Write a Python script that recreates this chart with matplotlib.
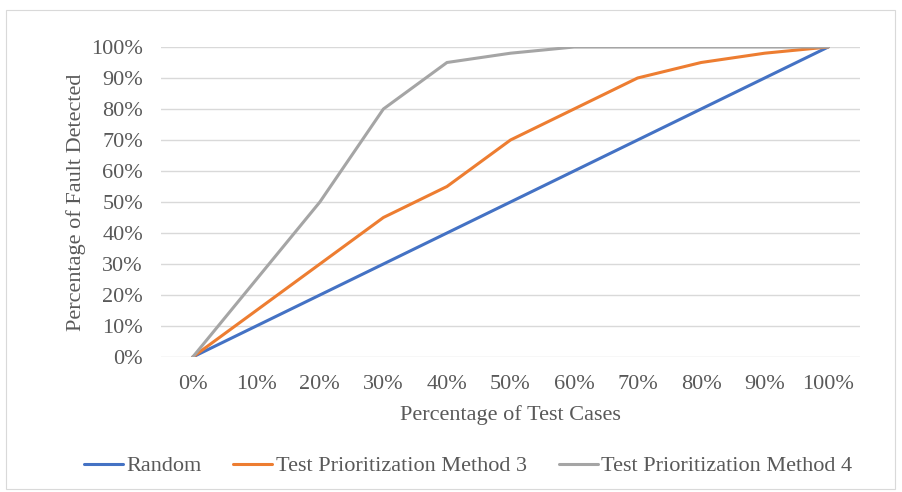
import matplotlib
matplotlib.use("Agg")
import matplotlib.pyplot as plt
from matplotlib.patches import Rectangle
from matplotlib.ticker import PercentFormatter

categories = ["0%", "10%", "20%", "30%", "40%", "50%", "60%", "70%", "80%", "90%", "100%"]
random_vals = [0, 10, 20, 30, 40, 50, 60, 70, 80, 90, 100]
method3_vals = [0, 15, 30, 45, 55, 70, 80, 90, 95, 98, 100]
method4_vals = [0, 25, 50, 80, 95, 98, 100, 100, 100, 100, 100]
series_names = ["Random", "Test Prioritization Method 3", "Test Prioritization Method 4"]
colors = ["#4472C4", "#ED7D31", "#A5A5A5"]

plt.rcParams['font.family'] = ['Liberation Serif', 'DejaVu Serif']
text_color = "#595959"
fs = 16

W, H = 902, 492
fig = plt.figure(figsize=(W / 100, H / 100), dpi=100)
fig.patch.set_facecolor("white")
fig.patches.append(Rectangle((6 / W, 1 - 489 / H), 889 / W, 479 / H, transform=fig.transFigure,
                             fill=False, edgecolor="#d9d9d9", linewidth=0.8))

ax = fig.add_axes([161 / W, 1 - 357 / H, 699 / W, 310 / H])
x = list(range(len(categories)))
for vals, name, c in zip([random_vals, method3_vals, method4_vals], series_names, colors):
    ax.plot(x, vals, color=c, linewidth=2.2, label=name, solid_capstyle="round", solid_joinstyle="round")

ax.set_xlim(-0.5, len(categories) - 0.5)
ax.set_ylim(0, 100)
ax.set_yticks(range(0, 101, 10))
ax.yaxis.set_major_formatter(PercentFormatter(decimals=0))
ax.set_xticks(x)
ax.set_xticklabels(categories)
ax.grid(axis="y", color="#d9d9d9", linewidth=1)
ax.set_axisbelow(True)
for s in ["top", "right", "left", "bottom"]:
    ax.spines[s].set_visible(False)
ax.tick_params(axis="both", length=0, labelsize=fs, colors=text_color)
ax.tick_params(axis="y", pad=13)
ax.tick_params(axis="x", pad=13)
ax.set_xlabel("Percentage of Test Cases", fontsize=fs, color=text_color, labelpad=8)
ax.set_ylabel("Percentage of Fault Detected", fontsize=fs, color=text_color, labelpad=4)

leg = fig.legend(loc="center", bbox_to_anchor=(468 / W, 1 - 466 / H), ncol=3, frameon=False,
                 fontsize=fs, handlelength=1.75, handletextpad=0.15, columnspacing=1.45)
for t in leg.get_texts():
    t.set_color(text_color)

fig.savefig("out.png", dpi=100)
